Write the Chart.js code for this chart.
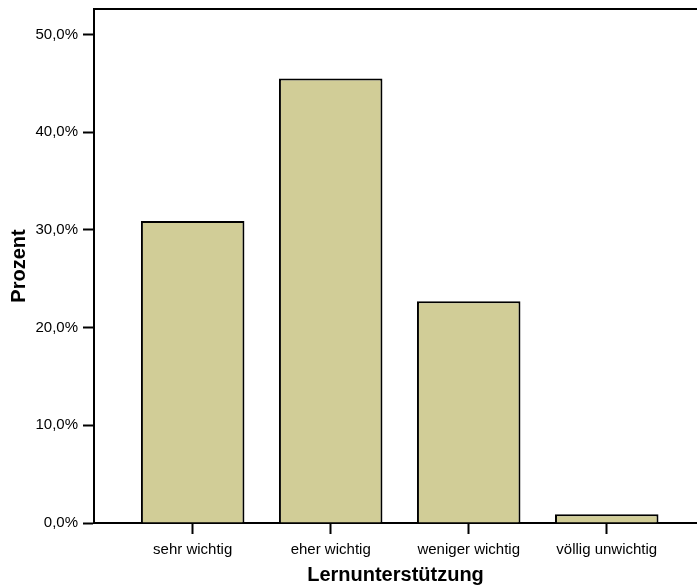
<!DOCTYPE html>
<html lang="de">
<head>
    <meta charset="UTF-8">
    <title>Lernunterstützung</title>
    <script src="https://cdn.jsdelivr.net/npm/chart.js"></script>
    <style>
        html, body { margin: 0; padding: 0; background: #fff; overflow: hidden; }
        canvas { display: block; }
    </style>
</head>
<body>
    <canvas id="chart" width="697" height="587"></canvas>

    <script>
        // Daten
        const categories = ['sehr wichtig', 'eher wichtig', 'weniger wichtig', 'völlig unwichtig'];
        const positions = [1, 2, 3, 4];
        const percent = [30.9, 45.5, 22.7, 0.9];
        const yTicks = [0, 10, 20, 30, 40, 50];

        const font = "'Liberation Sans', Arial, sans-serif";

        const points = positions.map((p, i) => ({ x: p, y: percent[i] }));

        new Chart(document.getElementById('chart'), {
            type: 'bar',
            data: {
                datasets: [{
                    label: 'Prozent',
                    data: points,
                    backgroundColor: '#d1cd97',
                    borderColor: '#000',
                    borderWidth: 2,
                    categoryPercentage: 1,
                    barPercentage: 0.75
                }]
            },
            options: {
                responsive: false,
                animation: false,
                layout: { padding: 0 },
                plugins: {
                    legend: { display: false },
                    tooltip: { enabled: false }
                },
                scales: {
                    x: {
                        type: 'linear',
                        position: 'bottom',
                        offset: false,
                        min: 0.285,
                        max: 4.654,
                        afterBuildTicks: function(scale) {
                            scale.ticks = positions.map(v => ({ value: v }));
                        },
                        afterFit: function(scale) {
                            scale.height = 64;
                            scale.paddingLeft = 0;
                            scale.paddingRight = 0;
                        },
                        ticks: {
                            color: '#000',
                            padding: 7,
                            maxRotation: 0,
                            autoSkip: false,
                            font: { family: font, size: 15 },
                            callback: function(value) {
                                return categories[positions.indexOf(value)];
                            }
                        },
                        grid: {
                            offset: false,
                            drawOnChartArea: false,
                            drawTicks: true,
                            tickLength: 11,
                            tickWidth: 2,
                            tickColor: '#000'
                        },
                        border: { display: true, color: '#000', width: 2 },
                        title: {
                            display: true,
                            text: 'Lernunterstützung',
                            color: '#000',
                            padding: { top: 0, bottom: 0 },
                            font: { family: font, size: 20, weight: 'bold' }
                        }
                    },
                    xTop: {
                        type: 'linear',
                        position: 'top',
                        offset: false,
                        min: 0,
                        max: 1,
                        afterFit: function(scale) {
                            scale.height = 9;
                            scale.paddingLeft = 0;
                            scale.paddingRight = 0;
                        },
                        ticks: { display: false },
                        grid: { display: false },
                        border: { display: true, color: '#000', width: 2 }
                    },
                    y: {
                        min: 0,
                        max: 52.6,
                        afterBuildTicks: function(scale) {
                            scale.ticks = yTicks.map(v => ({ value: v }));
                        },
                        afterFit: function(scale) {
                            scale.width = 94;
                            scale.paddingTop = 0;
                            scale.paddingBottom = 0;
                        },
                        ticks: {
                            color: '#000',
                            padding: 5,
                            font: { family: font, size: 15 },
                            callback: function(value) {
                                return value.toFixed(1).replace('.', ',') + '%';
                            }
                        },
                        grid: {
                            drawOnChartArea: false,
                            drawTicks: true,
                            tickLength: 11,
                            tickWidth: 2,
                            tickColor: '#000'
                        },
                        border: { display: true, color: '#000', width: 2 },
                        title: {
                            display: true,
                            text: 'Prozent',
                            color: '#000',
                            padding: { top: 7, bottom: 0 },
                            font: { family: font, size: 20, weight: 'bold' }
                        }
                    }
                }
            }
        });
    </script>
</body>
</html>
